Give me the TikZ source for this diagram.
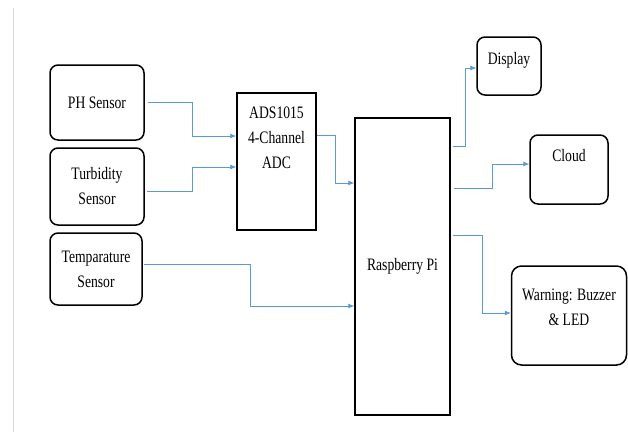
\documentclass[tikz,border=0pt]{standalone}
\usepackage{fontspec}
\setmainfont[FakeStretch=0.78]{Liberation Serif}
\usepackage{tikz}
\usetikzlibrary{arrows.meta}
\usetikzlibrary{calc}
\definecolor{linkblue}{HTML}{5B9BD5}
\definecolor{edgegray}{HTML}{D9D9D9}

\begin{document}
\begin{tikzpicture}[x=1pt,y=-1pt,
	block/.style={draw,line width=1.5pt,rectangle,align=center,inner sep=0pt,font=\fontsize{17.5}{25}\selectfont},
	rblock/.style={block,rounded corners=8pt},
	link/.style={draw=linkblue,line width=0.7pt,-{Latex[length=6pt,width=5pt]}}]
				\useasboundingbox (0,0) rectangle (628,432);
				\draw[edgegray,line width=1pt] (13,8) -- (13,432);
				\node[rblock,minimum width=94pt,minimum height=75pt] (PH_SENSOR) at (97,102.5) {PH Sensor};
				\node[rblock,minimum width=94pt,minimum height=77pt] (TURBIDITY_SENSOR) at (97,186.5) {Turbidity\\Sensor};
				\node[rblock,minimum width=92pt,minimum height=72pt] (TEMP_SENSOR) at (96,269) {Temparature\\Sensor};
				\node[block,minimum width=79pt,minimum height=137pt,text depth=48pt] (ADC) at (276.5,161.5) {ADS1015\\4-Channel\\ADC};
				\node[block,minimum width=95pt,minimum height=297pt] (RPI) at (402.5,266.5) {Raspberry Pi};
				\node[rblock,minimum width=64pt,minimum height=58pt,text depth=16pt] (DISPLAY) at (509,66) {Display};
				\node[rblock,minimum width=78pt,minimum height=69pt,text depth=28pt] (CLOUD) at (569,169.5) {Cloud};
				\node[rblock,rounded corners=10pt,minimum width=115pt,minimum height=99pt,text depth=16pt] (WARNING) at (569,315.5) {Warning: Buzzer\\\& LED};
				% sensors to ADC
				\draw[link] ([xshift=3pt]PH_SENSOR.east) -- ++(45,0) |- ([yshift=25.5pt]ADC.west);
				\draw[link] ([xshift=2pt,yshift=-4.5pt]TURBIDITY_SENSOR.east) -- ++(46,0) |- ([yshift=-5.5pt]ADC.west);
				% into the Pi
				\draw[link] ([yshift=26.5pt]ADC.east) -- ++(19,0) |- ([yshift=83.5pt]RPI.west);
				\draw[link] ([xshift=1pt,yshift=5pt]TEMP_SENSOR.east) -- ++(107,0) |- ([yshift=-39.5pt]RPI.west);
				% outputs
				\draw[link] ([xshift=2pt,yshift=120.5pt]RPI.east) -- ++(13,0) |- ([yshift=-2pt]DISPLAY.west);
				\draw[link] ([xshift=3pt,yshift=78.5pt]RPI.east) -- ++(39,0) |- ([yshift=5.5pt]CLOUD.west);
				\draw[link] ([xshift=2pt,yshift=31.5pt]RPI.east) -- ++(30,0) |- ([yshift=2.5pt]WARNING.west);
\end{tikzpicture}
\end{document}
